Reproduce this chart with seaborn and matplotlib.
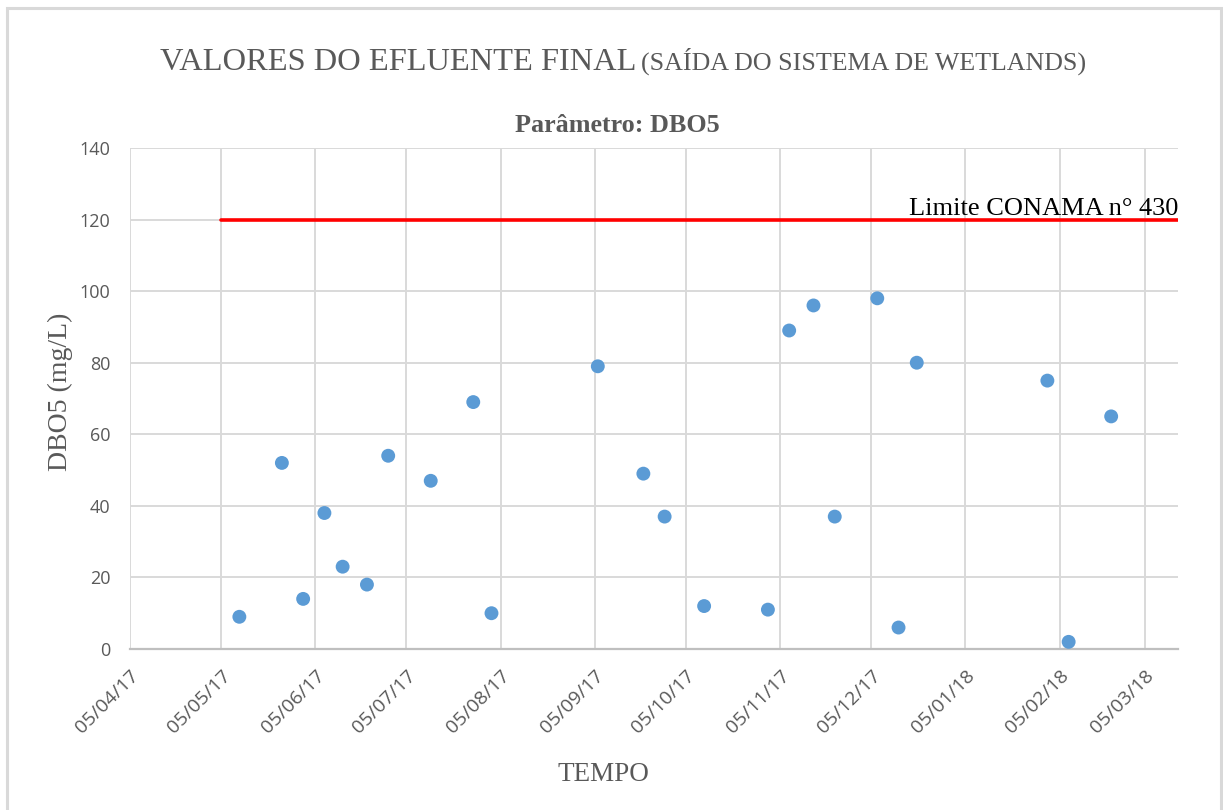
import matplotlib
matplotlib.use("Agg")
import matplotlib.pyplot as plt
import matplotlib.dates as mdates
import matplotlib.patches as mpatches
import seaborn as sns
import pandas as pd

# ---- data ----
dates = ["2017-05-11", "2017-05-25", "2017-06-01", "2017-06-08", "2017-06-14",
         "2017-06-22", "2017-06-29", "2017-07-13", "2017-07-27", "2017-08-02",
         "2017-09-06", "2017-09-21", "2017-09-28", "2017-10-11", "2017-11-01",
         "2017-11-08", "2017-11-16", "2017-11-23", "2017-12-07", "2017-12-14",
         "2017-12-20", "2018-02-01", "2018-02-08", "2018-02-22"]
dbo5 = [9, 52, 14, 38, 23, 18, 54, 47, 69, 10,
        79, 49, 37, 12, 11, 89, 96, 37, 98, 6,
        80, 75, 2, 65]
limit_dates = ["2017-05-05", "2018-03-16"]
limit_values = [120, 120]
x_range = ["2017-04-05", "2018-03-16"]
y_ticks = [0, 20, 40, 60, 80, 100, 120, 140]

title_main = "VALORES DO EFLUENTE FINAL"
title_sub = "(SAÍDA DO SISTEMA DE WETLANDS)"
subtitle = "Parâmetro: DBO5"
ylabel = "DBO5 (mg/L)"
xlabel = "TEMPO"
limit_label = "Limite CONAMA n° 430"

df = pd.DataFrame({"data": pd.to_datetime(dates), "DBO5": dbo5})
df_lim = pd.DataFrame({"data": pd.to_datetime(limit_dates), "lim": limit_values})

sns.set_theme(style="white")
W, H = 1223, 810
fig = plt.figure(figsize=(W / 100, H / 100), dpi=100)
fig.patch.set_facecolor("white")
ax = fig.add_axes([130 / W, 1 - 649 / H, (1178 - 130) / W, (649 - 148) / H])

grid_c = "#d9d9d9"
text_c = "#595959"

sns.lineplot(data=df_lim, x="data", y="lim", ax=ax, color="#ff0000", lw=2.6, zorder=3)
sns.scatterplot(data=df, x="data", y="DBO5", ax=ax, color="#5b9bd5", s=100,
                edgecolor="none", zorder=4)

ax.set_xlim(pd.to_datetime(x_range[0]), pd.to_datetime(x_range[1]))
ax.set_ylim(0, 140)
ax.set_yticks(y_ticks)
ax.xaxis.set_major_locator(mdates.MonthLocator(bymonthday=5))
ax.xaxis.set_major_formatter(mdates.DateFormatter("%d/%m/%y"))
ax.grid(True, color=grid_c, lw=1.4)
ax.set_axisbelow(True)
for s in ["top", "right", "left"]:
    ax.spines[s].set_visible(False)
ax.spines["bottom"].set_color("#bfbfbf")
ax.spines["bottom"].set_linewidth(1.6)
ax.spines["bottom"].set_zorder(2)
ax.set_xlabel("")
ax.set_ylabel("")
ax.tick_params(axis="both", length=0, colors=text_c)
ax.tick_params(axis="y", pad=14, labelsize=13)
ax.tick_params(axis="x", pad=13, labelsize=14)
for lab in ax.get_yticklabels():
    lab.set_fontfamily("Open Sans")
for lab in ax.get_xticklabels():
    lab.set_fontfamily("Open Sans")
    lab.set_rotation(45)
    lab.set_ha("right")
    lab.set_rotation_mode("anchor")

serif = "Liberation Serif"
ax.text(1.0, 121.4, limit_label, transform=ax.get_yaxis_transform(),
        ha="right", va="baseline", fontsize=19, family=serif, color="black")

fig.text(636 / W, 1 - 70 / H, title_main, ha="right", va="baseline",
         fontsize=23.4, family=serif, color=text_c)
fig.text(641 / W, 1 - 70 / H, title_sub, ha="left", va="baseline",
         fontsize=18.7, family=serif, color=text_c)
fig.text(617 / W, 1 - 132 / H, subtitle, ha="center", va="baseline",
         fontsize=18.8, family=serif, weight="bold", color=text_c)
fig.text(603 / W, 1 - 781 / H, xlabel, ha="center", va="baseline",
         fontsize=19.5, family=serif, color=text_c)
fig.text(60 / W, 1 - 392 / H, ylabel, ha="center", va="center", rotation=90,
         fontsize=20, family=serif, color=text_c)

frame = mpatches.Rectangle((7 / W, -0.05), (1221 - 7) / W, 1.05 - 8 / H,
                           transform=fig.transFigure, fill=False,
                           edgecolor=grid_c, lw=2.2)
fig.patches.append(frame)

fig.savefig("out.png", dpi=100, facecolor="white")
